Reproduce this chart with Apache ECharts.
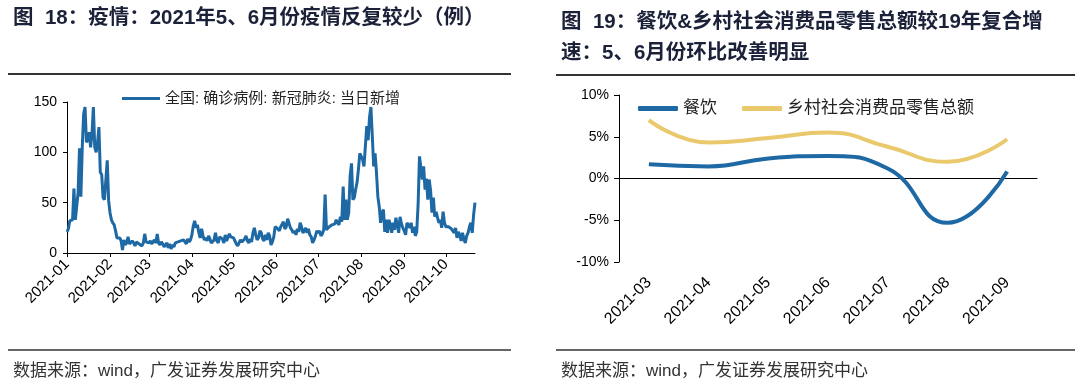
<!DOCTYPE html>
<html><head><meta charset="utf-8">
<script src="https://cdn.jsdelivr.net/npm/echarts@6/dist/echarts.min.js"></script>
<style>html,body{margin:0;padding:0;background:#fff}#c{width:1080px;height:382px}</style>
</head><body><div id="c"></div>
<script>
// ---------- Left chart data: daily new confirmed cases, 2021-01-01 .. 2021-10-22 ----------
const jan = [21,24,32,33,33,64,33,34,60,104,56,105,138,145,110,112,120,105,118,145,105,100,110,125,80,78,55,53,52,92,52];
const feb = [40,33,30,28,22,15,14,15,12,3,13,8,10,16,9,8,12,10,7,11,12,9,8,7,10,19,11,10];
const mar = [10,12,9,11,13,10,19,10,8,11,9,6,8,10,5,9,4,8,6,10,9,11,10,12,11,13,12,9,14,11,13];
const apr = [18,27,32,25,28,20,15,24,17,13,15,12,17,14,10,11,13,20,12,10,16,15,14,10,18,12,13,19,16,17];
const may = [15,12,9,7,10,13,11,10,14,17,12,10,14,11,20,25,18,13,15,22,20,14,12,18,13,20,17,8,11,16,26];
const jun = [25,24,22,26,25,31,24,26,34,33,25,23,20,22,18,24,21,30,26,20,22,25,20,24,18,16,10,13,17,22];
const jul = [20,22,17,19,23,58,23,24,26,25,28,27,29,33,30,28,36,31,66,33,53,33,40,76,89,53,55,63,70,83,99];
const aug = [96,93,86,106,126,112,135,145,116,86,99,80,56,46,30,40,43,21,33,20,33,28,20,30,23,35,28,20,36,29,25];
const sep = [22,18,30,28,25,30,20,26,17,21,48,96,85,73,86,63,74,53,73,62,40,55,36,41,35,30,33,25,41,30];
const oct = [26,27,26,25,24,25,20,25,15,21,18,12,20,14,10,17,20,26,30,20,38,50];
const leftMonths = [jan,feb,mar,apr,may,jun,jul,aug,sep,oct];
const leftSeriesName = '全国: 确诊病例: 新冠肺炎: 当日新增';
const leftYTicks = [0, 50, 100, 150];

// ---------- Right chart data ----------
const rightCats = ['2021-03','2021-04','2021-05','2021-06','2021-07','2021-08','2021-09'];
const catering = [1.7, 1.45, 2.4, 2.7, 1.2, -5.3, 0.85];
const rural = [7.0, 4.3, 4.85, 5.5, 3.8, 2.0, 4.7];
const rightNames = ['餐饮', '乡村社会消费品零售总额'];
const rightYTicks = [-10, -5, 0, 5, 10];

// build daily category list from the month arrays
const leftDates = [], leftVals = [];
leftMonths.forEach((arr, m) => {
  arr.forEach((v, d) => {
    leftDates.push('2021-' + String(m + 1).padStart(2, '0') + '-' + String(d + 1).padStart(2, '0'));
    leftVals.push(v);
  });
});
const isMonthStart = (i, v) => v.slice(8) === '01';

const FONT = '"Liberation Sans", Arial, "Noto Sans CJK SC", sans-serif';
const TITLE_COLOR = '#1b2138';
const BLUE = '#1e69a4';
const YELLOW = '#e9c96b';

const chart = echarts.init(document.getElementById('c'), null, {renderer: 'canvas'});
chart.setOption({
  animation: false,
  textStyle: {fontFamily: FONT},
  title: [
    {text: '图  18：疫情：2021年5、6月份疫情反复较少（例）', left: 8, top: 3,
     textStyle: {fontSize: 20.5, fontWeight: 'bold', color: TITLE_COLOR, fontFamily: FONT}},
    {text: '图  19：餐饮&乡村社会消费品零售总额较19年复合增\n速：5、6月份环比改善明显', left: 556, top: 2,
     textStyle: {fontSize: 20.5, fontWeight: 'bold', color: TITLE_COLOR, fontFamily: FONT, lineHeight: 31}},
    {text: '数据来源：wind，广发证券发展研究中心', left: 8, top: 358,
     textStyle: {fontSize: 17, fontWeight: 'normal', color: '#333', fontFamily: FONT}},
    {text: '数据来源：wind，广发证券发展研究中心', left: 556, top: 358,
     textStyle: {fontSize: 17, fontWeight: 'normal', color: '#333', fontFamily: FONT}}
  ],
  graphic: [
    {type: 'line', shape: {x1: 8, y1: 74, x2: 511, y2: 74}, style: {stroke: '#333', lineWidth: 2}},
    {type: 'line', shape: {x1: 556, y1: 75, x2: 1075, y2: 75}, style: {stroke: '#333', lineWidth: 2}},
    {type: 'line', shape: {x1: 8, y1: 350, x2: 511, y2: 350}, style: {stroke: '#333', lineWidth: 1.5}},
    {type: 'line', shape: {x1: 556, y1: 350, x2: 1075, y2: 350}, style: {stroke: '#333', lineWidth: 1.5}}
  ],
  legend: [
    {data: [leftSeriesName], left: 117, top: 86, icon: 'rect', itemWidth: 38, itemHeight: 3, itemGap: 10,
     textStyle: {fontSize: 15, color: '#222', fontFamily: FONT}},
    {data: rightNames, left: 633, top: 95, icon: 'roundRect', itemWidth: 40, itemHeight: 5, itemGap: 25,
     textStyle: {fontSize: 17, color: '#222', fontFamily: FONT}}
  ],
  grid: [
    {left: 67, right: 605, top: 102, bottom: 129},
    {left: 619, right: 43, top: 95, bottom: 120}
  ],
  xAxis: [
    {gridIndex: 0, type: 'category', data: leftDates, boundaryGap: false,
     axisLine: {lineStyle: {color: '#000', width: 1}},
     axisTick: {interval: isMonthStart, length: 4, lineStyle: {color: '#000'}},
     axisLabel: {interval: isMonthStart, rotate: 45, fontSize: 15, color: '#000', margin: 9,
       formatter: v => v.slice(0, 7)},
     splitLine: {show: false}},
    {gridIndex: 1, type: 'category', data: rightCats, boundaryGap: true,
     axisLine: {onZero: true, lineStyle: {color: '#000', width: 1}},
     axisTick: {length: 5, lineStyle: {color: '#000'}},
     axisLabel: {show: false}},
    {gridIndex: 1, type: 'category', data: rightCats, boundaryGap: true, position: 'bottom',
     axisLine: {show: false, onZero: false}, axisTick: {show: false},
     axisLabel: {rotate: 45, fontSize: 16, color: '#000', margin: 18}}
  ],
  yAxis: [
    {gridIndex: 0, type: 'value', min: leftYTicks[0], max: leftYTicks[leftYTicks.length - 1], interval: 50,
     axisLine: {show: true, lineStyle: {color: '#000'}},
     axisTick: {show: true, length: 4, lineStyle: {color: '#000'}},
     axisLabel: {fontSize: 14, color: '#000', margin: 10},
     splitLine: {show: false}},
    {gridIndex: 1, type: 'value', min: rightYTicks[0], max: rightYTicks[rightYTicks.length - 1], interval: 5,
     axisLine: {show: true, lineStyle: {color: '#000'}},
     axisTick: {show: true, length: 5, lineStyle: {color: '#000'}},
     axisLabel: {fontSize: 14, color: '#000', margin: 10, formatter: '{value}%'},
     splitLine: {show: false}}
  ],
  series: [
    {name: leftSeriesName, type: 'line', xAxisIndex: 0, yAxisIndex: 0, data: leftVals,
     symbol: 'none', lineStyle: {color: BLUE, width: 3}, itemStyle: {color: BLUE}},
    {name: rightNames[0], type: 'line', xAxisIndex: 1, yAxisIndex: 1, data: catering, smooth: 0.5,
     symbol: 'none', lineStyle: {color: BLUE, width: 4}, itemStyle: {color: BLUE}},
    {name: rightNames[1], type: 'line', xAxisIndex: 1, yAxisIndex: 1, data: rural, smooth: 0.5,
     symbol: 'none', lineStyle: {color: YELLOW, width: 4}, itemStyle: {color: YELLOW}}
  ]
});
</script></body></html>
